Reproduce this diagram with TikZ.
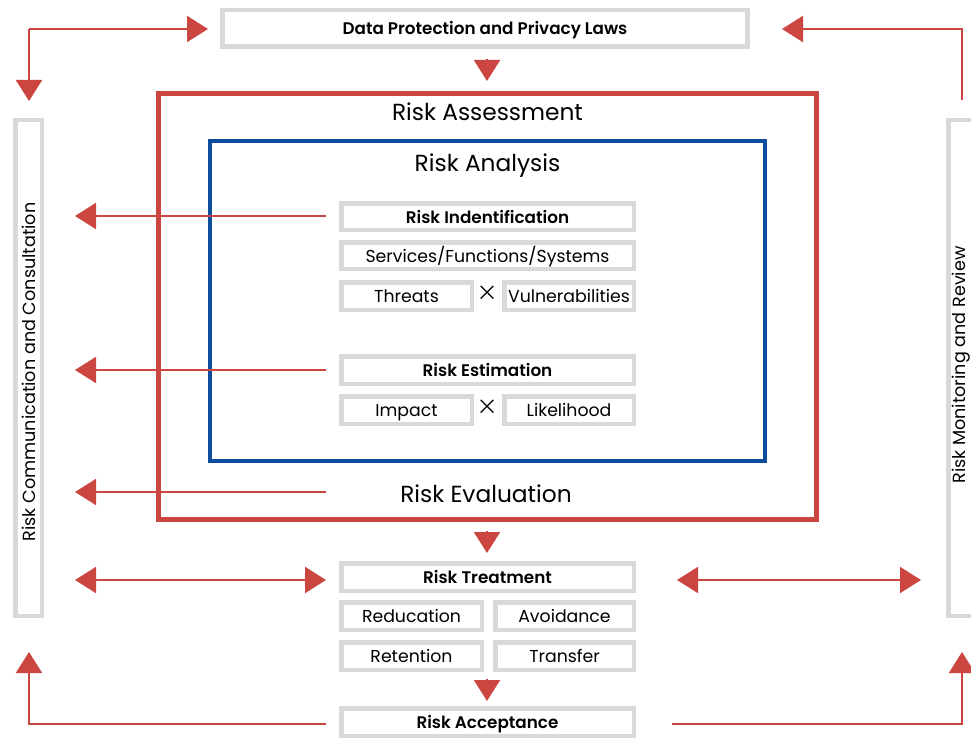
\documentclass[tikz,border=0pt]{standalone}
\usepackage{fontspec}
\setmainfont{Poppins}[BoldFont={Poppins SemiBold}]
\newfontfamily\thinpoppins{Poppins ExtraLight}
\usetikzlibrary{arrows.meta}
\definecolor{riskred}{RGB}{203,69,65}
\definecolor{riskblue}{RGB}{12,78,156}
\definecolor{boxgray}{RGB}{217,217,217}
\tikzset{
  gbox/.style={draw=boxgray, line width=4.5pt, fill=white, inner sep=0pt,
    text height=15pt, text depth=2pt, font=\fontsize{17.3}{19}\selectfont},
  bold/.style={font=\fontsize{16.8}{19}\selectfont\bfseries},
  flow/.style={draw=riskred, line width=2pt, -{Triangle[length=21pt,width=26pt]}},
  flowboth/.style={draw=riskred, line width=2pt, {Triangle[length=21pt,width=26pt]}-{Triangle[length=21pt,width=26pt]}},
  headtxt/.style={font=\fontsize{23.3}{26}\selectfont},
  sidetxt/.style={font=\fontsize{17.6}{20}\selectfont, rotate=90},
  timesmark/.style={font=\fontsize{34}{36}\selectfont\thinpoppins, inner sep=0pt}
}
\begin{document}
\begin{tikzpicture}[x=1pt,y=-1pt]
\useasboundingbox[fill=white] (0,0) rectangle (971,738);

% framing boxes
\draw[riskred, line width=5pt] (158.5,93.5) rectangle (816.5,519.5);
\draw[riskblue, line width=4pt] (210,141) rectangle (765,461);
\node[headtxt] (assess) at (487.5,112) {Risk Assessment};
\node[headtxt] (analysis) at (487.5,166) {Risk Analysis};
\node[headtxt] (evaluation) at (486,494) {Risk Evaluation};

% top law box
\node[gbox, bold, minimum width=525, minimum height=36.5] (laws) at (485,28.5) {Data Protection and Privacy Laws};

% side bars
\node[gbox, minimum width=26.5, minimum height=495.5] (comm) at (28.5,368) {};
\node[sidetxt] at (28.5,372) {Risk Communication and Consultation};
\node[gbox, minimum width=30, minimum height=495.5] (monitor) at (963.5,368) {};
\node[sidetxt] at (961,365) {Risk Monitoring and Review};

% identification block
\node[gbox, bold, minimum width=292.5, minimum height=26.5] (ident) at (487.5,216.5) {Risk Indentification};
\node[gbox, minimum width=292.5, minimum height=26.5] (services) at (487.5,255.5) {Services/Functions/Systems};
\node[gbox, minimum width=130.5, minimum height=27.5] (threats) at (406.5,296) {Threats};
\node[timesmark] (x1) at (488,296) {×};
\node[gbox, minimum width=129.5, minimum height=27.5] (vuln) at (569,296) {Vulnerabilities};

% estimation block
\node[gbox, bold, minimum width=292.5, minimum height=27.5] (estim) at (487.5,370) {Risk Estimation};
\node[gbox, minimum width=130.5, minimum height=27.5] (impact) at (406.5,410) {Impact};
\node[timesmark] (x2) at (488,410) {×};
\node[gbox, minimum width=129.5, minimum height=27.5] (likely) at (569,410) {Likelihood};

% treatment block
\node[gbox, bold, minimum width=292.5, minimum height=27.5] (treat) at (487.5,577) {Risk Treatment};
\node[gbox, minimum width=140.5, minimum height=27.5] (reduc) at (411.5,616) {Reducation};
\node[gbox, minimum width=138.5, minimum height=27.5] (avoid) at (564.5,616) {Avoidance};
\node[gbox, minimum width=140.5, minimum height=27.5] (retain) at (411.5,656) {Retention};
\node[gbox, minimum width=138.5, minimum height=27.5] (transfer) at (564.5,656) {Transfer};
\node[gbox, bold, minimum width=292.5, minimum height=27.5] (accept) at (487.5,722) {Risk Acceptance};

% connector end points
\coordinate (tlcorner) at (29,29);
\coordinate (trcorner) at (962,29);
\coordinate (blcorner) at (29,724);
\coordinate (brcorner) at (962,724);
\coordinate (lawsdownA) at (487,59);
\coordinate (lawsdownB) at (487,81);
\coordinate (evaldownA) at (487,531);
\coordinate (evaldownB) at (487,553);
\coordinate (treatdownA) at (487,679);
\coordinate (treatdownB) at (487,701);

% top feedback loops
\draw[flow] (tlcorner) -- (29,101);
\draw[flow] (tlcorner) -- (208,29);
\draw[flow] (962,100) -- (trcorner) -- (782,29);

% vertical flow
\draw[flow] (lawsdownA) -- (lawsdownB);
\draw[flow] (evaldownA) -- (evaldownB);
\draw[flow] (treatdownA) -- (treatdownB);

% reports to communication
\draw[flow] (326,216) -- (75,216);
\draw[flow] (326,370) -- (75,370);
\draw[flow] (326,492) -- (75,492);

% treatment exchanges
\draw[flowboth] (75,580) -- (326,580);
\draw[flowboth] (677,580) -- (921,580);

% bottom loops
\draw[flow] (326,724) -- (blcorner) -- (29,652);
\draw[flow] (672,724) -- (brcorner) -- (962,652);
\end{tikzpicture}
\end{document}
